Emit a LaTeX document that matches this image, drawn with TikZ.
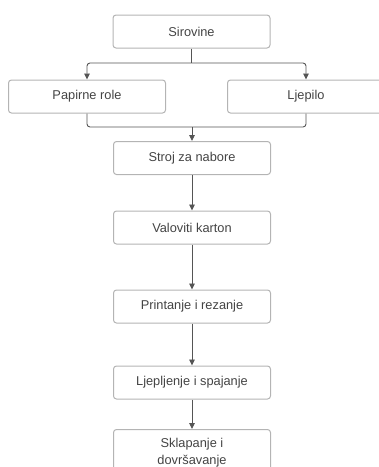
\documentclass[tikz,border=0pt]{standalone}
\usepackage{fontspec}
\setmainfont{Liberation Sans}
\usetikzlibrary{arrows.meta}
\definecolor{boxline}{HTML}{B4B4B4}
\definecolor{conn}{HTML}{555555}
\definecolor{txt}{HTML}{444444}
\begin{document}
\begin{tikzpicture}[x=1pt,y=-1pt,
  procbox/.style={draw=boxline, line width=1pt, rounded corners=3pt, fill=white,
    minimum width=157pt, minimum height=33pt, inner sep=0pt, text=txt,
    font=\fontsize{12.8}{17}\selectfont, align=center},
  conline/.style={draw=conn, line width=0.9pt, rounded corners=3pt},
  arr/.style={conline, -{Triangle[length=6pt,width=5.5pt]}}]
\useasboundingbox (0,0) rectangle (379,467);
\clip (0,0) rectangle (379,467);
\node[procbox] (sir) at (191.5,31.5) {Sirovine};
\node[procbox] (pap) at (87,96.5) {Papirne role};
\node[procbox] (lje) at (306,96.5) {Ljepilo};
\node[procbox] (str) at (192,158) {Stroj za nabore};
\node[procbox] (val) at (192,227.5) {Valoviti karton};
\node[procbox] (pri) at (192,306.5) {Printanje i rezanje};
\node[procbox] (ljs) at (192,382.5) {Ljepljenje i spajanje};
\node[procbox, minimum height=46pt, anchor=north] (skl) at (192,429) {Sklapanje i\\dovršavanje};
\coordinate (j1) at (191.5,63);
\coordinate (j2) at (192,127);
\draw[conline] (sir.south) -- (j1);
\draw[arr] (j1) -| (pap.north);
\draw[arr] (j1) -| (lje.north);
\draw[conline] (pap.south) |- (j2) -| (lje.south);
\draw[arr] (j2) -- (str.north);
\draw[arr] (str.south) -- (val.north);
\draw[arr] (val.south) -- (pri.north);
\draw[arr] (pri.south) -- (ljs.north);
\draw[arr] (ljs.south) -- (skl.north);
\end{tikzpicture}
\end{document}
